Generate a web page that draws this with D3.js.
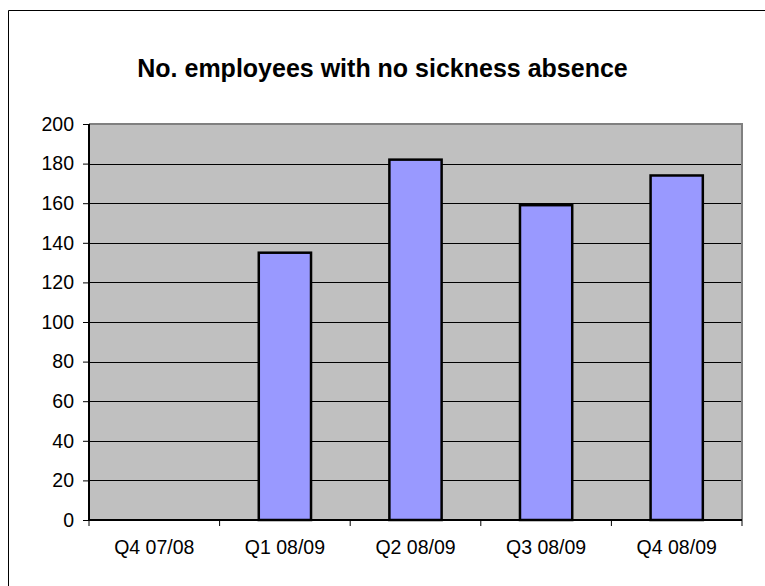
<!DOCTYPE html>
<html>
<head>
<meta charset="utf-8">
<script src="https://cdn.jsdelivr.net/npm/d3@7"></script>
<style>
  body { margin: 0; background: #fff; overflow: hidden; }
  text { font-family: Arial, "Liberation Sans", sans-serif; fill: #000; }
</style>
</head>
<body>
<div id="chart"></div>
<script>
const categories = ["Q4 07/08", "Q1 08/09", "Q2 08/09", "Q3 08/09", "Q4 08/09"];
const values = [0, 135, 182, 159, 174];
const yTicks = [0, 20, 40, 60, 80, 100, 120, 140, 160, 180, 200];
const title = "No. employees with no sickness absence";

const width = 765, height = 586;
const plot = {left: 89, right: 742, top: 124, bottom: 520};

const svg = d3.select("#chart").append("svg")
    .attr("width", width)
    .attr("height", height)
    .style("display", "block");

// outer chart frame (only left/top visible)
svg.append("path")
    .attr("d", `M8.5,${height}V10.5H${width}`)
    .attr("fill", "none").attr("stroke", "#000").attr("stroke-width", 1);

svg.append("text")
    .attr("x", 382.5).attr("y", 77)
    .attr("text-anchor", "middle")
    .style("font-size", "25px").style("font-weight", "bold")
    .text(title);

const x = d3.scaleBand()
    .domain(categories)
    .range([plot.left, plot.right])
    .paddingInner(0.6).paddingOuter(0.3);

const xc = d3.scaleBand()
    .domain(categories)
    .range([plot.left, plot.right]);

const y = d3.scaleLinear()
    .domain([0, 200])
    .range([plot.bottom, plot.top]);

// plot area
svg.append("rect")
    .attr("x", plot.left).attr("y", plot.top)
    .attr("width", plot.right - plot.left).attr("height", plot.bottom - plot.top)
    .attr("fill", "#c0c0c0");

// gridlines
svg.append("g")
    .selectAll("line")
    .data(yTicks.filter(d => d > 0 && d < 200))
    .enter().append("line")
    .attr("x1", plot.left).attr("x2", plot.right)
    .attr("y1", d => Math.round(y(d)) + 0.5).attr("y2", d => Math.round(y(d)) + 0.5)
    .attr("stroke", "#000").attr("stroke-width", 1);

// gray border top/right
svg.append("path")
    .attr("d", `M${plot.left},${plot.top} H${plot.right} V${plot.bottom}`)
    .attr("fill", "none").attr("stroke", "#808080").attr("stroke-width", 2);

// bars
svg.append("g")
    .selectAll("rect")
    .data(values.map((v, i) => ({c: categories[i], v})).filter(d => d.v > 0))
    .enter().append("rect")
    .attr("x", d => x(d.c))
    .attr("y", d => y(d.v))
    .attr("width", x.bandwidth())
    .attr("height", d => y(0) - y(d.v))
    .attr("fill", "#9999ff")
    .attr("stroke", "#000").attr("stroke-width", 2.5);

// y axis
const yAxis = svg.append("g")
    .attr("transform", `translate(${plot.left},0)`)
    .call(d3.axisLeft(y).tickValues(yTicks).tickSize(6).tickPadding(9));
yAxis.select(".domain").attr("stroke", "#000").attr("stroke-width", 2)
    .attr("d", `M0,${plot.top}V${plot.bottom}`);
yAxis.selectAll(".tick line").attr("stroke", "#000").attr("stroke-width", 1);
yAxis.selectAll("text").style("font-size", "19.5px").attr("font-family", null);

// x axis
const xAxis = svg.append("g")
    .attr("transform", `translate(0,${plot.bottom})`)
    .call(d3.axisBottom(xc).tickSize(0).tickPadding(20));
xAxis.select(".domain").attr("stroke", "#000").attr("stroke-width", 2)
    .attr("d", `M${plot.left},0H${plot.right}`);
xAxis.selectAll("text").style("font-size", "19.5px").attr("font-family", null);

// x category boundary ticks
svg.append("g")
    .selectAll("line")
    .data(categories.concat(["end"]))
    .enter().append("line")
    .attr("x1", (d, i) => i < categories.length ? xc(d) : plot.right)
    .attr("x2", (d, i) => i < categories.length ? xc(d) : plot.right)
    .attr("y1", plot.bottom).attr("y2", plot.bottom + 6)
    .attr("stroke", "#000").attr("stroke-width", 1);
</script>
</body>
</html>
